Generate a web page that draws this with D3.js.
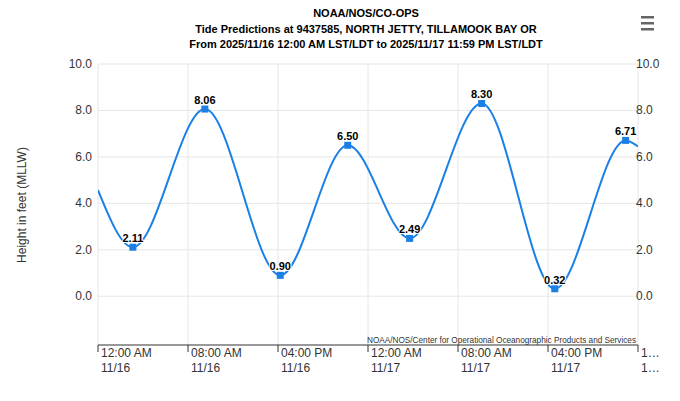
<!DOCTYPE html><html><head><meta charset="utf-8"><script src="https://cdn.jsdelivr.net/npm/d3@7"></script>
<style>body{margin:0;background:#fff}text{font-family:"Liberation Sans",Arial,sans-serif}</style></head><body><svg id="c" width="680" height="401"></svg><script>
const times=[0,3.1,9.5,16.2,22.2,27.7,34.1,40.6,46.9,48];
const heights=[4.57,2.11,8.06,0.90,6.50,2.49,8.30,0.32,6.71,6.45];
const labelled=[1,2,3,4,5,6,7,8];
const tickHours=[0,8,16,24,32,40,48];
const tickLabels=[["12:00 AM","11/16"],["08:00 AM","11/16"],["04:00 PM","11/16"],["12:00 AM","11/17"],["08:00 AM","11/17"],["04:00 PM","11/17"],["1…","1…"]];
const yTicks=[0,2,4,6,8,10];
const svg=d3.select("#c");
const x=d3.scaleLinear().domain([0,48]).range([98,638]);
const y=d3.scaleLinear().domain([-2.1,10]).range([345,64]);
const g=svg.append("g");
g.selectAll(".vg").data(tickHours).join("line").attr("x1",d=>x(d)).attr("x2",d=>x(d)).attr("y1",64).attr("y2",345).attr("stroke","#e6e6e6");
g.selectAll(".hg").data(yTicks).join("line").attr("x1",98).attr("x2",638).attr("y1",d=>y(d)).attr("y2",d=>y(d)).attr("stroke","#e6e6e6");
svg.append("line").attr("x1",98).attr("x2",638).attr("y1",345).attr("y2",345).attr("stroke","#333");
svg.selectAll(".tk").data(tickHours).join("line").attr("x1",d=>x(d)).attr("x2",d=>x(d)).attr("y1",345).attr("y2",352).attr("stroke","#333");
const tl=svg.selectAll(".tl").data(tickHours.slice(0,7)).join("text").attr("x",d=>x(d)+3).attr("font-size",12).attr("fill","#333");
tl.append("tspan").attr("y",357).text((d,i)=>tickLabels[i][0]);
tl.append("tspan").attr("x",d=>x(d)+3).attr("y",372).text((d,i)=>tickLabels[i][1]);
svg.selectAll(".yl").data(yTicks).join("text").attr("x",92).attr("y",d=>y(d)+4).attr("text-anchor","end").attr("font-size",12).attr("fill","#333").text(d=>d.toFixed(1));
svg.selectAll(".yr").data(yTicks).join("text").attr("x",636).attr("y",d=>y(d)+4).attr("font-size",12).attr("fill","#333").text(d=>d.toFixed(1));
svg.append("text").attr("transform","translate(26,205) rotate(-90)").attr("text-anchor","middle").attr("font-size",12).attr("fill","#333").text("Height in feet (MLLW)");
const line=d3.line().x((d,i)=>x(times[i])).y(d=>y(d)).curve(d3.curveMonotoneX);
svg.append("defs").append("clipPath").attr("id","cp").append("rect").attr("x",98).attr("y",40).attr("width",540).attr("height",305);
svg.append("path").attr("clip-path","url(#cp)").attr("d",line(heights)).attr("fill","none").attr("stroke","#1a80e6").attr("stroke-width",2);
svg.selectAll(".pt").data(labelled).join("rect").attr("x",i=>x(times[i])-3.5).attr("y",i=>y(heights[i])-3.5).attr("width",7).attr("height",7).attr("fill","#1a80e6");
svg.selectAll(".pl").data(labelled).join("text").attr("x",i=>x(times[i])).attr("y",i=>y(heights[i])-5).attr("text-anchor","middle").attr("font-size",11).attr("font-weight","bold").attr("fill","#000").attr("stroke","#fff").attr("stroke-width",2).attr("paint-order","stroke").text(i=>heights[i].toFixed(2));
svg.append("text").attr("x",367).attr("y",343).attr("textLength",269).attr("lengthAdjust","spacingAndGlyphs").attr("font-size",9.5).attr("fill","#333").text("NOAA/NOS/Center for Operational Oceanographic Products and Services");
const titles=["NOAA/NOS/CO-OPS","Tide Predictions at 9437585, NORTH JETTY, TILLAMOOK BAY OR","From 2025/11/16 12:00 AM LST/LDT to 2025/11/17 11:59 PM LST/LDT"];
svg.selectAll(".ti").data(titles).join("text").attr("x",366).attr("y",(d,i)=>17+i*15.5).attr("text-anchor","middle").attr("font-size",11).attr("font-weight","bold").attr("fill","#000").text(d=>d);
[16,22,28].forEach(yy=>svg.append("rect").attr("x",641).attr("y",yy).attr("width",13).attr("height",2.5).attr("fill","#666"));
</script></body></html>
